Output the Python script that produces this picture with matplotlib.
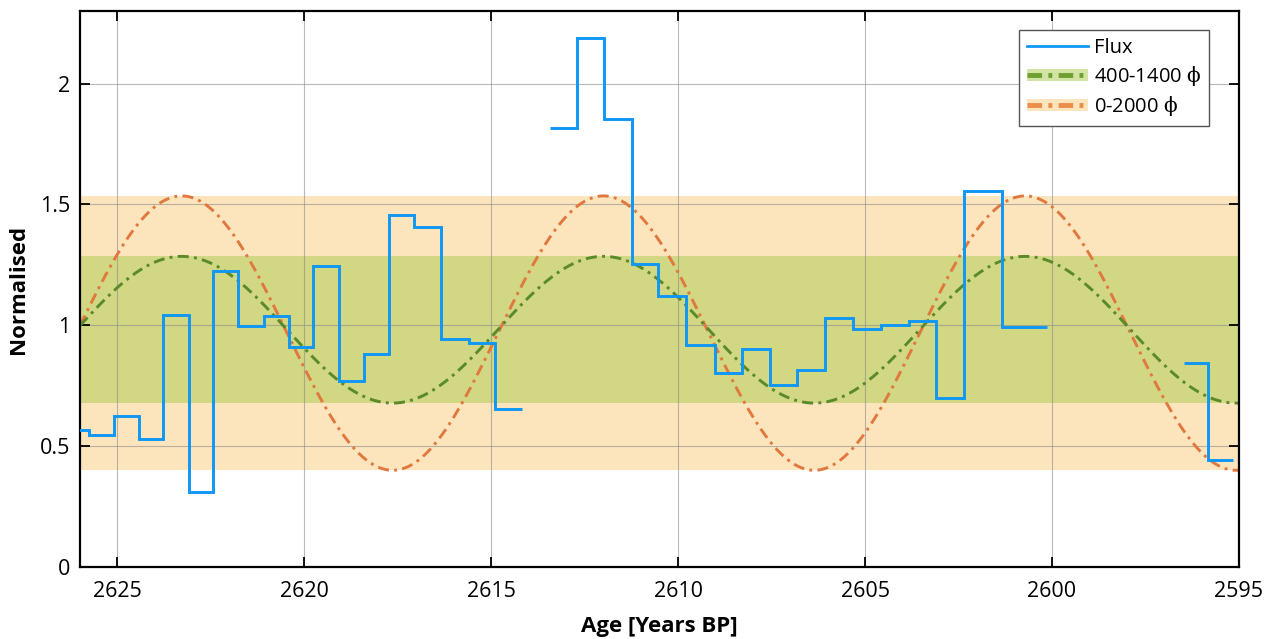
import numpy as np
import matplotlib
matplotlib.use('Agg')
import matplotlib.pyplot as plt
from matplotlib.lines import Line2D
from matplotlib.patches import Patch
from matplotlib.ticker import FuncFormatter

plt.rcParams['font.family'] = ['Open Sans', 'DejaVu Sans']
# upright serif phi in the legend labels
plt.rcParams['mathtext.fontset'] = 'custom'
plt.rcParams['mathtext.rm'] = 'DejaVu Serif'

# flux bins: edges in years BP (oldest first), NaN marks missing bins
flux_edges = [2626.40, 2625.757, 2625.088, 2624.419, 2623.769, 2623.081, 2622.430,
              2621.761, 2621.092, 2620.423, 2619.762, 2619.085, 2618.415, 2617.728,
              2617.059, 2616.344, 2615.605, 2614.890, 2614.176,
              2613.418, 2612.703, 2611.973, 2611.242, 2610.535, 2609.786, 2609.028,
              2608.298, 2607.548, 2606.826, 2606.066, 2605.327, 2604.577, 2603.828,
              2603.105, 2602.356, 2601.339, 2600.134,
              2596.467, 2595.824, 2595.155]
flux_values = [0.566, 0.545, 0.624, 0.528, 1.044, 0.309, 1.224, 0.997, 1.039,
               0.908, 1.245, 0.770, 0.883, 1.455, 1.406, 0.942, 0.928, 0.653,
               np.nan,
               1.815, 2.189, 1.854, 1.255, 1.120, 0.917, 0.804, 0.901, 0.752,
               0.813, 1.030, 0.983, 0.999, 1.019, 0.698, 1.554, 0.992,
               np.nan,
               0.842, 0.442]

# fitted cycle: period and age of a maximum
cycle_period = 11.28
cycle_peak = 2623.28
# envelope of each fit (min, max)
band_400_1400 = (0.678, 1.285)
band_0_2000 = (0.400, 1.535)

x_lim = (2626, 2595)
x_ticks = [2625, 2620, 2615, 2610, 2605, 2600, 2595]
y_ticks = [0, 0.5, 1, 1.5, 2]

c_flux = '#0f97f5'
c_green = '#5a8a2a'
c_orange = '#e0783f'
c_green_band = '#a7cb4b'
c_orange_band = '#f9b542'


def cycle(t, band):
    lo, hi = band
    return (hi + lo) / 2 + (hi - lo) / 2 * np.cos(2 * np.pi * (t - cycle_peak) / cycle_period)


fig = plt.figure(figsize=(12.64, 6.39), dpi=100)
ax = fig.add_axes([0.0633, 0.1127, 0.9169, 0.8701])

ax.axhspan(*band_0_2000, color=c_orange_band, alpha=0.35, lw=0, zorder=0)
ax.axhspan(*band_400_1400, color=c_green_band, alpha=0.5, lw=0, zorder=0.1)

t = np.linspace(x_lim[0], x_lim[1], 600)
dash = (0, (3.8, 1.8, 1.0, 1.8))
ax.plot(t, cycle(t, band_0_2000), color=c_orange, lw=2.1, ls=dash, zorder=2)
ax.plot(t, cycle(t, band_400_1400), color=c_green, lw=2.1, ls=dash, zorder=2)

ax.stairs(flux_values, flux_edges, baseline=None, color=c_flux, lw=2.1, zorder=3)

ax.set_xlim(*x_lim)
ax.set_ylim(0, 2.3)
ax.set_xticks(x_ticks)
ax.set_yticks(y_ticks)
ax.yaxis.set_major_formatter(FuncFormatter(lambda v, p: f'{v:g}'))
ax.grid(True, color='#8c8c8c', alpha=0.6, lw=0.8)
for l in ax.get_xgridlines() + ax.get_ygridlines():
    l.set_zorder(1)
ax.tick_params(direction='in', length=7, width=1.3, top=True, right=True,
               labelsize=15.5)
ax.tick_params(axis='x', pad=10)
ax.tick_params(axis='y', pad=7)
for s in ax.spines.values():
    s.set_linewidth(1.6)

ax.set_xlabel('Age [Years BP]', fontsize=16, fontweight='bold', labelpad=10)
ax.set_ylabel('Normalised', fontsize=16, fontweight='bold', labelpad=8)

leg_dash = (0, (3.0, 1.3, 0.8, 1.3))
h_flux = Line2D([], [], color=c_flux, lw=2)
h_green = (Patch(facecolor=c_green_band, alpha=0.5, lw=0),
           Line2D([], [], color='#6f9f30', lw=3.5, ls=leg_dash))
h_orange = (Patch(facecolor=c_orange_band, alpha=0.35, lw=0),
            Line2D([], [], color='#ee8c4c', lw=3.5, ls=leg_dash))
leg = ax.legend([h_flux, h_green, h_orange],
                ['Flux', r'400-1400 $\mathrm{\phi}$', r'0-2000 $\mathrm{\phi}$'],
                loc='upper right', bbox_to_anchor=(0.974, 0.966), borderaxespad=0,
                fontsize=14.5, fancybox=False, framealpha=1, edgecolor='#555555',
                handlelength=3.0, handleheight=0.55, borderpad=0.4,
                labelspacing=0.3, handletextpad=0.3)
leg.get_frame().set_linewidth(1.0)
leg.set_zorder(5)

fig.savefig('out.png', dpi=100)
